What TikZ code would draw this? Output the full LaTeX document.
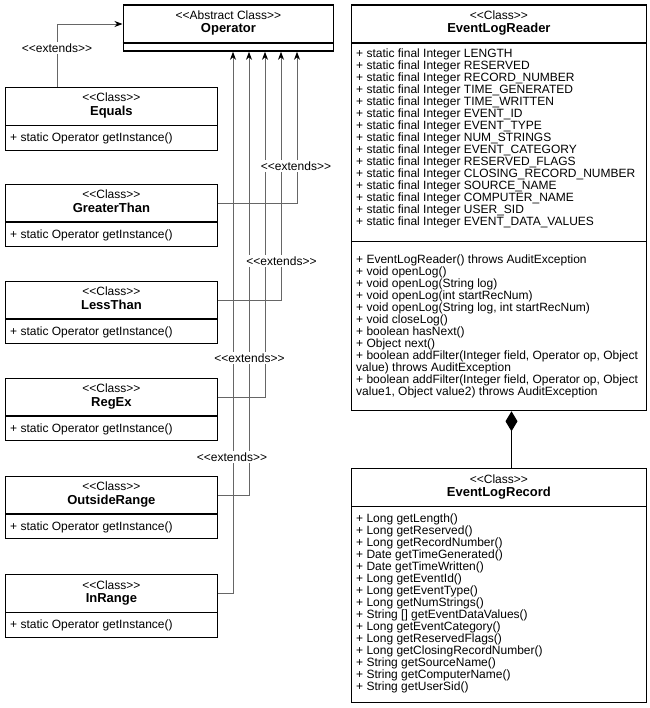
\documentclass[tikz,border=0pt]{standalone}
\usepackage{fontspec}
\setmainfont{Liberation Sans}[Ligatures=TeXOff]
\usetikzlibrary{arrows.meta}

\newcommand\opclass[3]{%
  \node[box, minimum width=211.5bp, minimum height=62.5bp] (#1) at (5,#2) {};
  \draw[divider] ([yshift=-38.5bp]#1.north west) -- ([yshift=-38.5bp]#1.north east);
  \node[hdr] (#1-st) at ([yshift=-15bp]#1.north) {<<Class>>};
  \node[nm] (#1-nm) at ([yshift=-28.5bp]#1.north) {#3};
  \node[body] (#1-op) at ([xshift=5bp,yshift=-46bp]#1.north west) {+ static Operator getInstance()};
}

\begin{document}
\begin{tikzpicture}[x=1bp,y=-1bp,
  box/.style={draw=black, line width=1.3bp, fill=white, inner sep=0pt, anchor=north west},
  divider/.style={draw=black, line width=1.3bp},
  txt/.style={font=\fontsize{12bp}{12bp}\selectfont, inner sep=0pt, text=black},
  hdr/.style={txt, anchor=base},
  nm/.style={hdr, font=\fontsize{13bp}{13bp}\selectfont\bfseries},
  body/.style={txt, align=left, anchor=north west},
  conn/.style={draw=black!60, line width=0.9bp},
  inh/.style={conn, -{Stealth[length=8bp,width=6bp,inset=2.5bp,color=black]}},
  lbl/.style={txt, fill=white, inner sep=1.2bp}
]
\useasboundingbox (0,0) rectangle (650,708);

% ---------- Operator ----------
\node[box, minimum width=210.5bp, minimum height=46bp] (op) at (122.5,4.5) {};
\draw[divider] ([yshift=-38.5bp]op.north west) -- ([yshift=-38.5bp]op.north east);
\node[hdr] (op-st) at ([yshift=-15bp]op.north) {<<Abstract Class>>};
\node[nm] (op-nm) at ([yshift=-28.5bp]op.north) {Operator};

% ---------- operator subclasses ----------
\opclass{eq}{87}{Equals}
\opclass{gt}{183.5}{GreaterThan}
\opclass{lt}{280.5}{LessThan}
\opclass{re}{377.5}{RegEx}
\opclass{or}{475.5}{OutsideRange}
\opclass{ir}{574}{InRange}

% ---------- EventLogReader ----------
\node[box, minimum width=294.5bp, minimum height=405.5bp] (rd) at (351,4.5) {};
\draw[divider] ([yshift=-38.5bp]rd.north west) -- ([yshift=-38.5bp]rd.north east);
\draw[divider] ([yshift=-237.2bp]rd.north west) -- ([yshift=-237.2bp]rd.north east);
\node[hdr] (rd-st) at ([yshift=-15bp]rd.north) {<<Class>>};
\node[nm] (rd-nm) at ([yshift=-28.5bp]rd.north) {EventLogReader};
\node[body] (rd-at) at ([xshift=5bp,yshift=-44.5bp]rd.north west) {%
+ static final Integer LENGTH\\
+ static final Integer RESERVED\\
+ static final Integer RECORD\_NUMBER\\
+ static final Integer TIME\_GENERATED\\
+ static final Integer TIME\_WRITTEN\\
+ static final Integer EVENT\_ID\\
+ static final Integer EVENT\_TYPE\\
+ static final Integer NUM\_STRINGS\\
+ static final Integer EVENT\_CATEGORY\\
+ static final Integer RESERVED\_FLAGS\\
+ static final Integer CLOSING\_RECORD\_NUMBER\\
+ static final Integer SOURCE\_NAME\\
+ static final Integer COMPUTER\_NAME\\
+ static final Integer USER\_SID\\
+ static final Integer EVENT\_DATA\_VALUES};
\node[body] (rd-me) at ([xshift=5bp,yshift=-250.5bp]rd.north west) {%
+ EventLogReader() throws AuditException\\
+ void openLog()\\
+ void openLog(String log)\\
+ void openLog(int startRecNum)\\
+ void openLog(String log, int startRecNum)\\
+ void closeLog()\\
+ boolean hasNext()\\
+ Object next()\\
+ boolean addFilter(Integer field, Operator op, Object\\
value) throws AuditException\\
+ boolean addFilter(Integer field, Operator op, Object\\
value1, Object value2) throws AuditException};

% ---------- EventLogRecord ----------
\node[box, minimum width=294.5bp, minimum height=234bp] (rc) at (351,468) {};
\draw[divider] ([yshift=-38.5bp]rc.north west) -- ([yshift=-38.5bp]rc.north east);
\node[hdr] (rc-st) at ([yshift=-15bp]rc.north) {<<Class>>};
\node[nm] (rc-nm) at ([yshift=-28.5bp]rc.north) {EventLogRecord};
\node[body] (rc-me) at ([xshift=5bp,yshift=-45.5bp]rc.north west) {%
+ Long getLength()\\
+ Long getReserved()\\
+ Long getRecordNumber()\\
+ Date getTimeGenerated()\\
+ Date getTimeWritten()\\
+ Long getEventId()\\
+ Long getEventType()\\
+ Long getNumStrings()\\
+ String [] getEventDataValues()\\
+ Long getEventCategory()\\
+ Long getReservedFlags()\\
+ Long getClosingRecordNumber()\\
+ String getSourceName()\\
+ String getComputerName()\\
+ String getUserSid()};

% ---------- composition ----------
\coordinate (cx) at (511.5,0);
\draw[draw=black, line width=1bp, {Diamond[length=20bp,width=12bp,color=black]}-] (cx |- rd.south) -- (cx |- rc.north);

% ---------- inheritance connectors ----------
\coordinate (eqx) at (57,24);
\draw[inh] (eqx |- eq.north) -- (eqx) -- (eqx -| op.west);

\coordinate (gtx) at (297,0);
\coordinate (ltx) at (281,0);
\coordinate (rex) at (265,0);
\coordinate (orx) at (249,0);
\coordinate (irx) at (233,0);
\draw[inh] ([yshift=-19.5bp]gt.north east) -| (gtx |- op.south);
\draw[inh] ([yshift=-19.5bp]lt.north east) -| (ltx |- op.south);
\draw[inh] ([yshift=-19.5bp]re.north east) -| (rex |- op.south);
\draw[inh] ([yshift=-19.5bp]or.north east) -| (orx |- op.south);
\draw[inh] ([yshift=-19.5bp]ir.north east) -| (irx |- op.south);

% ---------- labels ----------
\node[lbl] (l-eq) at (57,48) {<<extends>>};
\node[lbl] (l-gt) at (296,166) {<<extends>>};
\node[lbl] (l-lt) at (281.5,261) {<<extends>>};
\node[lbl] (l-re) at (249.5,358) {<<extends>>};
\node[lbl] (l-or) at (232,457) {<<extends>>};
\end{tikzpicture}
\end{document}
